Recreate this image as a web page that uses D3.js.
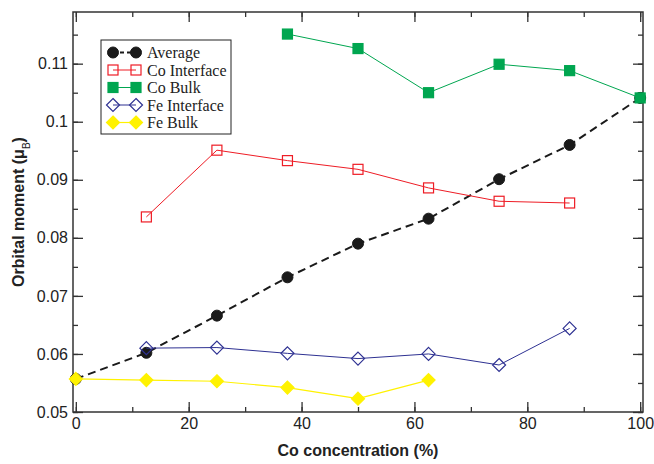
<!DOCTYPE html>
<html>
<head>
<meta charset="utf-8">
<script src="https://cdn.jsdelivr.net/npm/d3@7"></script>
<style>
  body { margin: 0; background: #fff; }
  svg { display: block; }
</style>
</head>
<body>
<div id="chart"></div>
<script>
// Co concentration (%) for every series
const concentration = [0, 12.5, 25, 37.5, 50, 62.5, 75, 87.5, 100];

const averageVals = [0.0557, 0.0602, 0.0666, 0.0732, 0.0790, 0.0833, 0.0901, 0.0960, 0.1041];
const coInterfaceX = [12.5, 25, 37.5, 50, 62.5, 75, 87.5];
const coInterfaceVals = [0.0836, 0.0951, 0.0933, 0.0918, 0.0886, 0.0863, 0.0860];
const coBulkX = [37.5, 50, 62.5, 75, 87.5, 100];
const coBulkVals = [0.1151, 0.1126, 0.1050, 0.1099, 0.1088, 0.1041];
const feInterfaceX = [12.5, 25, 37.5, 50, 62.5, 75, 87.5];
const feInterfaceVals = [0.0610, 0.0611, 0.0601, 0.0592, 0.0600, 0.0581, 0.0644];
const feBulkX = [0, 12.5, 25, 37.5, 50, 62.5];
const feBulkVals = [0.0557, 0.0555, 0.0553, 0.0542, 0.0523, 0.0555];

const xTicks = [0, 20, 40, 60, 80, 100];
const yTicks = [0.05, 0.06, 0.07, 0.08, 0.09, 0.1, 0.11];

const series = [
    { name: 'Average', xs: concentration, ys: averageVals, color: '#1a1a1a', shape: 'circle', fill: true, dash: '8,5', lw: 2 },
    { name: 'Co Interface', xs: coInterfaceX, ys: coInterfaceVals, color: '#ee1c25', shape: 'square', fill: false, dash: null, lw: 1 },
    { name: 'Co Bulk', xs: coBulkX, ys: coBulkVals, color: '#00a650', shape: 'square', fill: true, dash: null, lw: 1 },
    { name: 'Fe Interface', xs: feInterfaceX, ys: feInterfaceVals, color: '#2e3192', shape: 'diamond', fill: false, dash: null, lw: 1 },
    { name: 'Fe Bulk', xs: feBulkX, ys: feBulkVals, color: '#fff200', shape: 'diamond', fill: true, dash: null, lw: 1.2 },
];

const width = 654;
const height = 464;
const margin = { top: 12, right: 11, bottom: 52, left: 73 };
const innerW = width - margin.left - margin.right;
const innerH = height - margin.top - margin.bottom;

const svg = d3.select('#chart')
    .append('svg')
    .attr('width', width)
    .attr('height', height);

const g = svg.append('g')
    .attr('transform', `translate(${margin.left},${margin.top})`);

const x = d3.scaleLinear().domain([-0.5, 100.5]).range([0, innerW]);
const y = d3.scaleLinear().domain([0.05, 0.1189]).range([innerH, 0]);

const sansFont = '"Liberation Sans", Arial, Helvetica, sans-serif';
const serifFont = '"Liberation Serif", "Times New Roman", serif';

// ticks on all four sides, pointing inwards
const xMinor = d3.range(0, 101, 10);
const yMinor = d3.range(0.05, 0.1189, 0.005);

function tickAxis(axisFn, scale, values, size, transform) {
    const a = g.append('g')
        .attr('transform', transform)
        .call(axisFn(scale).tickValues(values).tickSize(size).tickFormat(''));
    a.select('.domain').remove();
    a.selectAll('line').attr('stroke', '#333').attr('stroke-width', 1.3);
}

tickAxis(d3.axisTop, x, xMinor, 5, `translate(0,${innerH})`);
tickAxis(d3.axisTop, x, xTicks, 10, `translate(0,${innerH})`);
tickAxis(d3.axisBottom, x, xMinor, 5, 'translate(0,0)');
tickAxis(d3.axisBottom, x, xTicks, 10, 'translate(0,0)');
tickAxis(d3.axisRight, y, yMinor, 5, 'translate(0,0)');
tickAxis(d3.axisRight, y, yTicks, 10, 'translate(0,0)');
tickAxis(d3.axisLeft, y, yMinor, 5, `translate(${innerW},0)`);
tickAxis(d3.axisLeft, y, yTicks, 10, `translate(${innerW},0)`);

// tick labels
const xAxis = g.append('g')
    .attr('transform', `translate(0,${innerH})`)
    .call(d3.axisBottom(x).tickValues(xTicks).tickSize(0).tickPadding(6).tickFormat(d3.format('d')));
xAxis.select('.domain').remove();
xAxis.selectAll('text').attr('font-family', sansFont).attr('font-size', 16).attr('fill', '#222');

const yAxis = g.append('g')
    .call(d3.axisLeft(y).tickValues(yTicks).tickSize(0).tickPadding(5).tickFormat(d => d3.format('~g')(+d.toFixed(2))));
yAxis.select('.domain').remove();
yAxis.selectAll('text').attr('font-family', sansFont).attr('font-size', 16).attr('fill', '#222');

// frame
g.append('rect')
    .attr('width', innerW)
    .attr('height', innerH)
    .attr('fill', 'none')
    .attr('stroke', '#333')
    .attr('stroke-width', 1.5);

function drawMarker(sel, s, cx, cy) {
    const fill = s.fill ? s.color : '#fff';
    if (s.shape === 'circle') {
        sel.append('circle').attr('cx', cx).attr('cy', cy).attr('r', 5.5)
            .attr('fill', fill).attr('stroke', s.color).attr('stroke-width', 1);
    } else if (s.shape === 'square') {
        sel.append('rect').attr('x', cx - 5).attr('y', cy - 5).attr('width', 10).attr('height', 10)
            .attr('fill', s.fill ? s.color : 'none').attr('stroke', s.color).attr('stroke-width', 1.2);
    } else {
        const r = 6.5;
        sel.append('path')
            .attr('d', `M${cx},${cy - r}L${cx + r},${cy}L${cx},${cy + r}L${cx - r},${cy}Z`)
            .attr('fill', s.fill ? s.color : 'none').attr('stroke', s.color).attr('stroke-width', 1.2);
    }
}

const line = d3.line().x(d => x(d[0])).y(d => y(d[1]));

series.forEach(s => {
    const pts = s.xs.map((v, i) => [v, s.ys[i]]);
    const sg = g.append('g');
    sg.append('path')
        .datum(pts)
        .attr('d', line)
        .attr('fill', 'none')
        .attr('stroke', s.color)
        .attr('stroke-width', s.lw)
        .attr('stroke-dasharray', s.dash);
    pts.forEach(p => drawMarker(sg, s, x(p[0]), y(p[1])));
});

// legend
const legend = svg.append('g').attr('transform', 'translate(101,40)');
legend.append('rect')
    .attr('width', 130)
    .attr('height', 94)
    .attr('fill', '#fff')
    .attr('stroke', '#222')
    .attr('stroke-width', 1);

series.forEach((s, i) => {
    const ly = 12.5 + i * 17.5;
    const row = legend.append('g');
    row.append('line')
        .attr('x1', 12).attr('x2', 35).attr('y1', ly).attr('y2', ly)
        .attr('stroke', s.color).attr('stroke-width', s.lw)
        .attr('stroke-dasharray', s.dash ? '4,3' : null);
    drawMarker(row, s, 12, ly);
    drawMarker(row, s, 35, ly);
    row.append('text')
        .attr('x', 46)
        .attr('y', ly + 5.5)
        .attr('font-family', serifFont)
        .attr('font-size', 16)
        .attr('fill', '#222')
        .text(s.name);
});

// axis titles
svg.append('text')
    .attr('x', margin.left + innerW / 2)
    .attr('y', 456)
    .attr('text-anchor', 'middle')
    .attr('font-family', sansFont)
    .attr('font-weight', 'bold')
    .attr('font-size', 16)
    .attr('fill', '#222')
    .text('Co concentration (%)');

const yTitle = svg.append('text')
    .attr('text-anchor', 'middle')
    .attr('transform', `translate(24,${margin.top + innerH / 2}) rotate(-90)`)
    .attr('font-family', sansFont)
    .attr('font-weight', 'bold')
    .attr('font-size', 16)
    .attr('fill', '#222');
yTitle.append('tspan').text('Orbital moment (\u03bc');
yTitle.append('tspan').attr('font-size', 10).attr('font-weight', 'normal').attr('baseline-shift', 'sub').text('B');
yTitle.append('tspan').text(')');
</script>
</body>
</html>
